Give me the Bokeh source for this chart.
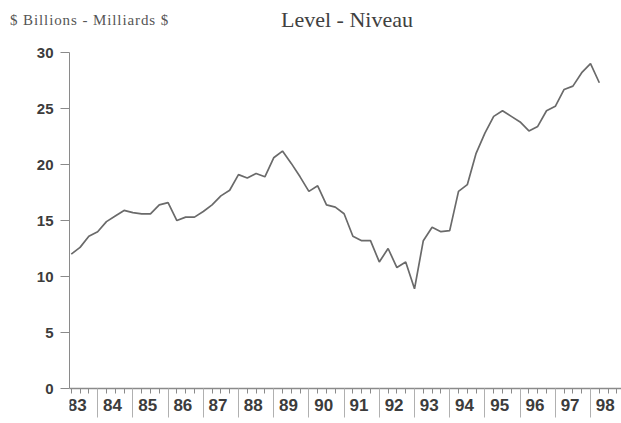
from bokeh.plotting import figure
from bokeh.models import FixedTicker, LinearAxis, Range1d, Div
from bokeh.layouts import column
from bokeh.embed import file_html
from bokeh.resources import INLINE

# Quarterly series, 1983Q2 .. 1998Q2 ($ billions)
start_year = 83
start_quarter = 2
values = [
    12.0, 12.6, 13.6,
    14.0, 14.9, 15.4, 15.9,
    15.7, 15.6, 15.6, 16.4,
    16.6, 15.0, 15.3, 15.3,
    15.8, 16.4, 17.2, 17.7,
    19.1, 18.8, 19.2, 18.9,
    20.6, 21.2, 20.1, 18.9,
    17.6, 18.1, 16.4, 16.2,
    15.6, 13.6, 13.2, 13.2,
    11.3, 12.5, 10.8, 11.3,
    8.9, 13.2, 14.4, 14.0,
    14.1, 17.6, 18.2, 21.0,
    22.8, 24.3, 24.8, 24.3,
    23.8, 23.0, 23.4, 24.8,
    25.2, 26.7, 27.0, 28.2,
    29.0, 27.3,
]
year_labels = ["83", "84", "85", "86", "87", "88", "89", "90",
               "91", "92", "93", "94", "95", "96", "97", "98"]
y_ticks = [0, 5, 10, 15, 20, 25, 30]

unit_text = "$ Billions - Milliards $"
title_text = "Level - Niveau"

x = [start_year + (start_quarter - 1 + i) / 4 for i in range(len(values))]
years = [int(s) for s in year_labels]
label_pos = [y + 0.42 for y in years]
quarter_pos = [y + q / 4 for y in years for q in range(4)]
boundary_pos = years[1:]

TXT = "#3c3c3c"
AX = "#8a8a8a"

header = Div(
    text=(
        '<div style="position:relative;width:621px;height:36px;">'
        '<div style="position:absolute;left:10px;top:13px;white-space:nowrap;'
        'font-family:\'Liberation Serif\';font-size:15px;letter-spacing:0.9px;'
        'line-height:15px;color:#555555;">' + unit_text + '</div>'
        '<div style="position:absolute;left:247px;width:200px;top:9px;text-align:center;'
        'white-space:nowrap;font-family:\'Liberation Serif\';font-size:22px;'
        'line-height:22px;color:#404040;">' + title_text + '</div>'
        '</div>'
    ),
    width=621, height=36, margin=0, disable_math=True,
)

p = figure(width=621, height=387, output_backend="svg", toolbar_location=None,
           x_range=Range1d(83.2, 98.88), y_range=Range1d(-3.125, 31.43),
           x_axis_location=None, min_border_left=69, min_border_right=0,
           min_border_top=0, min_border_bottom=0, margin=0)
p.outline_line_color = None
p.xgrid.visible = False
p.ygrid.visible = False
p.background_fill_color = "white"
p.border_fill_color = "white"

# y axis
ya = p.yaxis[0]
ya.ticker = FixedTicker(ticks=y_ticks)
ya.bounds = (0, 30)
ya.axis_line_color = AX
ya.axis_line_width = 1
ya.major_tick_line_color = AX
ya.major_tick_out = 9
ya.major_tick_in = 0
ya.minor_tick_line_color = None
ya.major_label_standoff = 7
ya.major_label_text_font = "Liberation Sans"
ya.major_label_text_font_style = "bold"
ya.major_label_text_font_size = "15px"
ya.major_label_text_color = TXT

# x axis: quarterly ticks and axis line
xq = LinearAxis(fixed_location=0, ticker=FixedTicker(ticks=quarter_pos))
xq.axis_line_color = AX
xq.axis_line_width = 1.5
xq.major_tick_out = 5
xq.major_tick_in = 0
xq.major_tick_line_color = AX
xq.minor_tick_line_color = None
xq.major_label_text_color = None
p.add_layout(xq, "below")

# x axis: year boundary marks
xb = LinearAxis(fixed_location=0, ticker=FixedTicker(ticks=boundary_pos))
xb.axis_line_color = None
xb.major_tick_out = 29
xb.major_tick_in = 0
xb.major_tick_line_color = "#b0b0b0"
xb.minor_tick_line_color = None
xb.major_label_text_color = None
p.add_layout(xb, "below")

# x axis: year labels
xl = LinearAxis(fixed_location=0, ticker=FixedTicker(ticks=label_pos),
                major_label_overrides={lp: lab for lp, lab in zip(label_pos, year_labels)})
xl.axis_line_color = None
xl.major_tick_line_color = None
xl.minor_tick_line_color = None
xl.major_tick_out = 0
xl.major_tick_in = 0
xl.major_label_standoff = 10
xl.major_label_text_font = "Liberation Sans"
xl.major_label_text_font_style = "bold"
xl.major_label_text_font_size = "17px"
xl.major_label_text_color = TXT
p.add_layout(xl, "below")

p.line(x, values, line_color="#6a6a6a", line_width=1.7)

layout = column(header, p, spacing=0, margin=0)
open("out.html", "w").write(file_html(layout, INLINE))
